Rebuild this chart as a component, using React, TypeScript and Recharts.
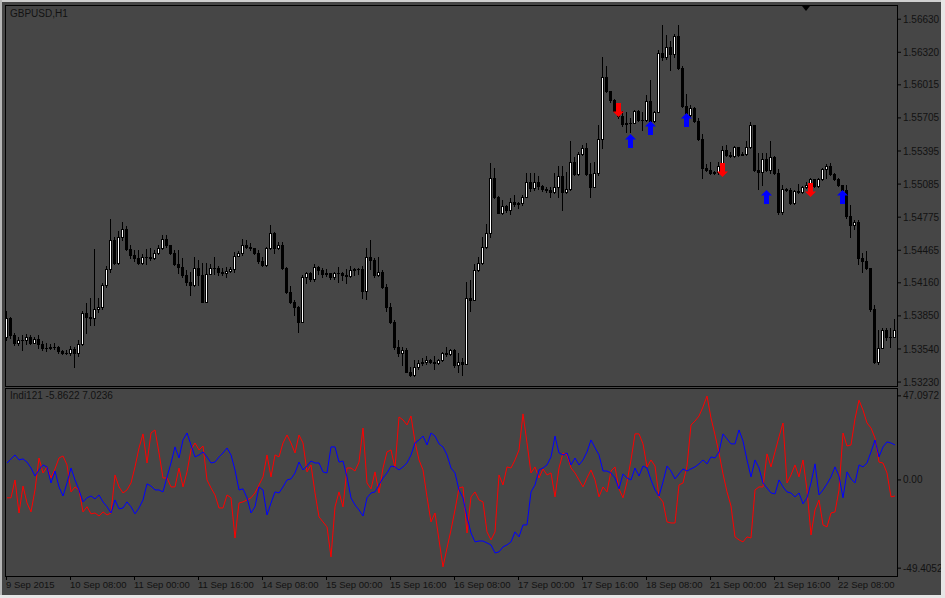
import React from 'react';
import { ComposedChart, Bar, Scatter, XAxis, YAxis, LineChart, Line } from 'recharts';

// GBPUSD H1 candles, prices stored as pips above 1.5300 (open = previous close)
const BASE = 1.53;
const PIP = 0.0001;
const firstOpenPips = 65;

const closePips = [
  83, 67, 60, 62, 62, 65, 60, 63, 59, 55, 55, 56, 56, 52, 50, 50, 54, 50, 59, 88,
  84, 83, 91, 93, 114, 129, 156, 135, 159, 166, 148, 142, 139, 135, 140, 140,
  139, 144, 149, 157, 151, 144, 134, 131, 123, 117, 114, 130, 123, 98, 124, 130, 130, 126, 125, 127,
  129, 141, 144, 151, 150, 149, 144, 136, 133, 149, 163, 149, 151, 130, 107, 98, 93, 79,
  121, 125, 120, 131, 128, 124, 125, 121, 125, 125, 123, 122, 128, 129, 129, 108, 140, 137, 123, 126,
  112, 93, 79, 56, 50, 53, 32, 30, 37, 41, 42, 44, 42, 41, 44, 50, 49,
  53, 39, 42, 40, 102, 100, 128, 135, 150, 163, 214, 196, 181, 188, 184, 192, 190, 191, 196, 210,
  205, 210, 207, 204, 203, 201, 206, 216, 201, 204, 229, 218, 237, 242, 218, 206,
  219, 251, 309, 296, 287, 277, 272, 265, 266, 266, 277, 269, 269, 286, 268, 276, 331, 328, 337, 330,
  347, 317, 282, 273, 280, 268, 251, 224, 222, 219, 220, 225, 240, 236, 235, 243, 236,
  237, 243, 264, 222, 220, 232, 222, 234, 219, 182, 204, 203, 191, 202, 201, 206, 208, 213, 207, 213,
  223, 225, 218, 213, 208, 203, 179, 170, 173, 139, 136, 130, 91, 42, 55, 72, 65, 65, 72,
];

const highPips = [
  90, 84, 69, 65, 67, 68, 67, 65, 67, 61, 60, 59, 60, 57, 53, 53, 57, 56, 62, 90,
  97, 102, 148, 102, 116, 132, 176, 159, 165, 173, 169, 151, 147, 147, 143, 148,
  149, 147, 151, 161, 161, 151, 147, 147, 139, 128, 126, 140, 137, 135, 135, 134, 140, 132, 130, 131,
  131, 145, 146, 157, 156, 153, 149, 147, 140, 150, 170, 164, 154, 154, 131, 113, 100, 94,
  123, 126, 126, 134, 132, 130, 129, 125, 126, 131, 126, 129, 132, 130, 130, 132, 149, 156, 139, 140,
  128, 115, 97, 81, 62, 56, 55, 37, 44, 44, 46, 47, 45, 47, 45, 51, 56,
  54, 54, 50, 46, 117, 119, 134, 140, 159, 171, 228, 224, 197, 194, 189, 195, 198, 192, 198, 219,
  219, 219, 216, 208, 206, 206, 219, 225, 225, 220, 249, 234, 239, 245, 247, 228,
  229, 264, 328, 319, 296, 288, 283, 277, 276, 270, 278, 278, 276, 292, 306, 277, 334, 358, 348, 343,
  349, 358, 319, 293, 283, 281, 270, 255, 227, 229, 221, 229, 244, 245, 239, 244, 243,
  239, 249, 267, 264, 238, 238, 238, 249, 235, 223, 208, 205, 205, 203, 209, 207, 210, 214, 213, 214,
  224, 227, 228, 219, 214, 208, 208, 189, 175, 175, 144, 146, 130, 95, 72, 74, 74, 74, 82,
];

const lowPips = [
  62, 64, 58, 58, 53, 59, 59, 60, 55, 53, 52, 54, 54, 50, 49, 49, 48, 37, 47, 58,
  69, 76, 76, 89, 91, 112, 126, 134, 134, 156, 147, 139, 136, 134, 134, 134,
  137, 138, 143, 148, 150, 143, 133, 125, 121, 114, 105, 113, 114, 98, 98, 124, 124, 123, 123, 121,
  126, 126, 141, 142, 149, 147, 143, 135, 132, 132, 148, 144, 148, 129, 106, 97, 86, 70,
  79, 116, 118, 118, 124, 121, 122, 120, 120, 117, 119, 116, 121, 123, 124, 102, 101, 129, 121, 122,
  111, 90, 78, 54, 47, 39, 32, 29, 29, 35, 39, 40, 41, 35, 40, 43, 47,
  48, 37, 32, 30, 40, 90, 100, 127, 134, 149, 159, 195, 181, 180, 182, 180, 188, 186, 189, 196,
  202, 203, 204, 202, 201, 196, 200, 196, 184, 200, 203, 217, 217, 236, 217, 196,
  206, 217, 242, 295, 285, 276, 270, 263, 257, 257, 266, 268, 259, 268, 267, 267, 276, 325, 326, 315,
  328, 316, 281, 272, 271, 267, 250, 214, 221, 218, 218, 218, 224, 235, 234, 234, 235,
  236, 236, 242, 221, 204, 208, 221, 219, 218, 180, 180, 202, 190, 190, 200, 200, 205, 207, 206, 206,
  212, 214, 217, 212, 207, 202, 177, 159, 166, 134, 126, 129, 90, 41, 40, 55, 62, 56, 65,
];

// signal arrows: bar index and price level (pips above 1.5300)
const sellArrows = [
  { bar: 153, pips: 278 },
  { bar: 179, pips: 222 },
  { bar: 201, pips: 203 },
];
const buyArrows = [
  { bar: 156, pips: 249 },
  { bar: 161, pips: 261 },
  { bar: 170, pips: 269 },
  { bar: 190, pips: 196 },
  { bar: 209, pips: 196 },
];

// Indi121 sub-window
const blueLine = [
  9.5, 11.8, 14, 11.2, 11.8, 10, 6.7, 2.2, 5.6, 8.4, 7.3, -1.7, 5, -3.9, -9, -1.7, 6.7, 0, -5.6, -12.3,
  -10, -9, -10.6, -8.4, -12.3, -15, -18.5, -11.2, -16.2, -15.7, -12.3, -15, -19, -15.7, -11.2, -2.2,
  -3.4, -5.6, -5.6, -6.7, 1.7, 9.5, 18.5, 12.3, 22.4, 26.3, 19.6, 12.9, 14, 15.7, 12.9, 9.5, 10, 12.9, 15.1, 17.9,
  14, 5.6, -5.6, -5, -10, -18.5, -15, -3.9, -5.6, -19.6, -12.9, -6.7, -7.3, -3.9, 0, 0.6, 3.9, 10,
  5.6, 7.8, 10.6, 9.5, 9.5, 4.5, 3.9, 18.5, 18.5, 10, 10.6, 1.7, -10, -14, -16.8, -20.2, -10, -7.3, -6.7, -2.8,
  1.1, 3.9, 7.8, 7.3, 5.6, 7.3, 9.5, 14, 20.7, 22.4, 24.6, 19.6, 26.3, 24.6, 20.2, 18.5, 14,
  6.7, 3.9, -5.6, -10, -20.7, -29.7, -34.7, -34.2, -34.2, -35.3, -36.4, -40.9, -40.3, -37.5, -36.4, -34.7, -29.1, -31.9, -25.2, -25.2,
  -6.7, -2.8, 5.6, 6.7, 8.4, 12.9, 24.6, 15.1, 14, 15.1, 8.4, 12.3, 8.4, 11.2, 15.7, 22.4, 18,
  14, 5, 5, 3.9, 1.1, -5, 3.4, 1.1, 0, 6.7, 2.2, 7.8, 6.7, 0, -5.6, -9, -1.1, 7.8, 5, 0.6,
  3.4, 6.2, 5, 6.2, 7.3, 9, 11.2, 9, 12.9, 12.3, 15.7, 25.8, 23, 20.2, 20.2, 28, 21.8,
  11.2, 1.7, 11.2, 6.7, -1.7, -4.5, -7.3, -7.8, 0, -3.9, -6.7, -7.3, -9.5, -7.3, -13.4, -10, -1.7, 9, -8.4, -5.6,
  -2.2, 1.7, 7.3, 2.2, -10, 4.5, 0.6, -1.7, 8.4, 7.3, 9.5, 15.7, 22.4, 12.9, 18.5, 21.3, 20.7, 19.6,
];

const redLine = [
  -10, -10, 0, -18.5, -3.4, -12.9, -17.9, -5.6, 12.3, 3.9, 7.3, 1.1, 6.2, 12.3, 13.4, 8.4, -6.7, -3.9, -5.6, -17.9,
  -15, -19, -18.5, -20.2, -17.9, -19.6, -18.5, 2.8, -3.9, -7.3, -5.6, -1.7, 7.3, 17.9, 25.8, 9.5,
  26.3, 28, 15.1, 1.1, 1.1, -3.9, -3.9, 6.7, -3.9, 4.5, 16.8, 20.7, 16.8, 19, 0, -4.5, -8.4, -15.7, -15.7, -8.4,
  -10, -32.5, -12.9, -12.3, -11.2, -10, -7.3, -2.8, 1.7, 14, 1.7, 14, 12.9, 20.7, 25.2, 20.7, 15.1, 25.2,
  20.7, 4.5, 8.4, -7.3, -20.7, -23.5, -26.3, -43.1, -15.1, -6.7, -15.1, 6.7, 6.7, 5, 10, 29.1, -1.7, -5, 4.5, -7.3,
  6.7, 15.7, 16.8, 6.7, 35.3, 33.6, 30.8, 35.8, 21.3, 11.2, 5.6, -9.5, -23.5, -18.5, -33.6, -48.7, -38.1,
  -28, -16.8, -4.5, -3.9, -29.7, -9.5, -6.7, -11.2, -12.3, -29.1, -33.6, -29.1, 2.8, -2.8, 7.3, 6.7, 11.2, 16.8, 37, 20.7,
  3.9, 7.3, 1.1, 6.2, 2.8, 3.9, -9.5, 6.7, 15.1, 14, 6.7, 3.9, 0, -3.9, 1.1, 5.6, 0,
  -9.5, -3.9, -6.7, 5, 7.3, -5, -10, -1.1, 11.2, 25.8, 25.8, 20.2, 7.3, 11.2, 7.8, -9.5, -12.3, -23.5, -24.1, -24.1,
  -2.8, -1.7, 7.8, 30.8, 33, 35.8, 40.9, 47, 34.7, 25.2, 15.1, 3.4, -6.7, -14.6, -31.9, -33.6, -34.7,
  -31.9, -32.5, -5.6, -3.9, -3.9, 14.6, 7.3, 15.7, 24.1, 31.9, -1.7, 2.8, 8.4, 1.7, 11.2, -5.6, -30.8, -16.8, -11.2, -25.2,
  -26.3, -18.5, -17.9, -5.6, 26.3, 19, 19.6, 34.2, 44.7, 39.1, 31.9, 29.1, 23.5, 10, 9.5, 3.9, -9.5, -9,
];

const timeTicks = [0, 16, 32, 48, 64, 80, 96, 112, 128, 144, 160, 176, 192, 208];
const timeLabels = [
  '9 Sep 2015', '10 Sep 08:00', '11 Sep 00:00', '11 Sep 16:00', '14 Sep 08:00', '15 Sep 00:00', '15 Sep 16:00',
  '16 Sep 08:00', '17 Sep 00:00', '17 Sep 16:00', '18 Sep 08:00', '21 Sep 00:00', '21 Sep 16:00', '22 Sep 08:00',
];
const priceTicks = [1.5663, 1.5632, 1.56015, 1.55705, 1.55395, 1.55085, 1.54775, 1.54465, 1.5416, 1.5385, 1.5354, 1.5323];
const indiTicks = [47.0972, 0, -49.4052];

const FONT = "'Liberation Sans', Arial, sans-serif";
const TEXT = '#121212';
const BG = '#464646';
const N = closePips.length;
const X_DOMAIN: [number, number] = [-0.5, N - 0.5];

const toPrice = (p: number) => BASE + p * PIP;

const candles = closePips.map((c, i) => {
  const open = toPrice(i === 0 ? firstOpenPips : closePips[i - 1]);
  const close = toPrice(c);
  const high = toPrice(highPips[i]);
  const low = toPrice(lowPips[i]);
  return { i, open, close, high, low, range: [low, high] };
});

const sellRows = sellArrows.map(a => ({ i: a.bar, price: toPrice(a.pips) }));
const buyRows = buyArrows.map(a => ({ i: a.bar, price: toPrice(a.pips) }));
const indiRows = blueLine.map((b, i) => ({ i, blue: b, red: redLine[i] }));

function Candle(props: any) {
  const { x, y, width, height, payload } = props;
  if (!payload || x == null) return null;
  const { open, close, high, low } = payload;
  const top = Math.min(y, y + height);
  const h = Math.abs(height);
  const py = (v: number) => top + ((high - v) / (high - low || 1)) * h;
  const c = Math.round(x + width / 2) - 1;
  const hiY = Math.round(py(high));
  const loY = Math.round(py(low));
  const bTop = Math.round(py(Math.max(open, close)));
  const bBot = Math.round(py(Math.min(open, close)));
  const bull = close > open;
  if (bull) {
    const bh = Math.max(bBot - bTop, 1);
    return (
      <g shapeRendering="crispEdges">
        <line x1={c + 0.5} x2={c + 0.5} y1={hiY} y2={bTop} stroke="#000" />
        <line x1={c + 0.5} x2={c + 0.5} y1={bTop + bh} y2={loY + 1} stroke="#000" />
        <rect x={c - 0.5} y={bTop + 0.5} width={2} height={bh} fill="#fff" stroke="#000" strokeWidth={1} />
      </g>
    );
  }
  return (
    <g shapeRendering="crispEdges">
      <line x1={c + 0.5} x2={c + 0.5} y1={hiY} y2={loY + 1} stroke="#000" />
      <rect x={c - 1} y={bTop} width={3} height={Math.max(bBot - bTop + 1, 1)} fill="#000" />
    </g>
  );
}

// thick arrow glyph, pointing up (dir = -1) or down (dir = 1)
function arrowPoints(cx: number, cy: number, dir: number) {
  const x = Math.round(cx) - 0.5;
  const y = Math.round(cy);
  return [
    [x, y + dir * 7], [x + 5.5, y + dir * 1.5], [x + 2.5, y + dir * 1.5], [x + 2.5, y - dir * 7],
    [x - 2.5, y - dir * 7], [x - 2.5, y + dir * 1.5], [x - 5.5, y + dir * 1.5],
  ].map(p => p.join(',')).join(' ');
}

function ArrowUp(props: any) {
  const { cx, cy } = props;
  if (cx == null) return null;
  return <polygon points={arrowPoints(cx, cy, -1)} fill="#0000ff" />;
}

function ArrowDown(props: any) {
  const { cx, cy } = props;
  if (cx == null) return null;
  return <polygon points={arrowPoints(cx, cy, 1)} fill="#ff0000" />;
}

function TimeTick(props: any) {
  const { x, y, payload } = props;
  const c = Math.round(x) - 1;
  const label = timeLabels[timeTicks.indexOf(payload.value)];
  return (
    <g>
      <line x1={c + 0.5} x2={c + 0.5} y1={y} y2={y + 4} stroke="#000" shapeRendering="crispEdges" />
      <text x={c} y={y + 12} fontSize={9.5} fontFamily={FONT} fill={TEXT} textAnchor="start">
        {label}
      </text>
    </g>
  );
}

const axisTick = { fontSize: 10, fill: TEXT, fontFamily: FONT };

export default function App() {
  return (
    <div style={{ position: 'absolute', left: 0, top: 0, width: 945, height: 598, background: BG, overflow: 'hidden' }}>
      <div style={{ position: 'absolute', left: 0, top: 0, width: 945, height: 387 }}>
        <ComposedChart width={945} height={387} data={candles} margin={{ top: 5, right: 0, left: 5, bottom: 1 }}>
          <XAxis dataKey="i" type="number" domain={X_DOMAIN} allowDataOverflow hide />
          <YAxis
            orientation="right"
            type="number"
            domain={[1.53193, 1.56763]}
            allowDataOverflow
            ticks={priceTicks}
            interval={0}
            width={48}
            tickSize={4}
            tickMargin={2}
            axisLine={false}
            tickLine={{ stroke: '#000' }}
            tick={axisTick}
            tickFormatter={(v: number) => v.toFixed(5)}
          />
          <Bar dataKey="range" barSize={3} shape={(p: any) => <Candle {...p} />} isAnimationActive={false} />
          <Scatter data={sellRows} dataKey="price" shape={(p: any) => <ArrowDown {...p} />} isAnimationActive={false} />
          <Scatter data={buyRows} dataKey="price" shape={(p: any) => <ArrowUp {...p} />} isAnimationActive={false} />
        </ComposedChart>
      </div>

      <div style={{ position: 'absolute', left: 0, top: 388, width: 945, height: 210 }}>
        <LineChart width={945} height={210} data={indiRows} margin={{ top: 0, right: 0, left: 5, bottom: 0 }}>
          <XAxis
            dataKey="i"
            type="number"
            domain={X_DOMAIN}
            allowDataOverflow
            ticks={timeTicks}
            interval={0}
            height={22}
            tickSize={0}
            tickMargin={0}
            axisLine={false}
            tickLine={false}
            tick={(p: any) => <TimeTick {...p} />}
          />
          <YAxis
            orientation="right"
            type="number"
            domain={[-53.8, 51.5]}
            allowDataOverflow
            ticks={indiTicks}
            interval={0}
            width={48}
            tickSize={4}
            tickMargin={2}
            axisLine={false}
            tickLine={{ stroke: '#000' }}
            tick={axisTick}
            tickFormatter={(v: number) => (v === 0 ? '0.00' : v.toFixed(4))}
          />
          <Line type="linear" dataKey="red" stroke="#ff0000" strokeWidth={1} dot={false} isAnimationActive={false} />
          <Line type="linear" dataKey="blue" stroke="#0000ff" strokeWidth={1} dot={false} isAnimationActive={false} />
        </LineChart>
      </div>

      {/* panel frames */}
      <div style={{ position: 'absolute', left: 5, top: 5, width: 893, height: 382, border: '1px solid #000', boxSizing: 'border-box', pointerEvents: 'none' }} />
      <div style={{ position: 'absolute', left: 5, top: 388, width: 893, height: 189, border: '1px solid #000', boxSizing: 'border-box', pointerEvents: 'none' }} />
      {/* chart shift marker */}
      <div style={{ position: 'absolute', left: 802, top: 6, width: 0, height: 0, borderLeft: '4px solid transparent', borderRight: '4px solid transparent', borderTop: '5px solid #000' }} />

      <div style={{ position: 'absolute', left: 10, top: 8, font: `10px ${FONT}`, color: TEXT, lineHeight: '12px' }}>GBPUSD,H1</div>
      <div style={{ position: 'absolute', left: 10, top: 390, font: `10px ${FONT}`, color: TEXT, lineHeight: '12px' }}>Indi121 -5.8622 7.0236</div>

      {/* window frame */}
      <div style={{ position: 'absolute', left: 0, top: 0, width: 945, height: 2, background: '#cfcfcf' }} />
      <div style={{ position: 'absolute', left: 0, top: 0, width: 2, height: 598, background: '#b8b8b8' }} />
      <div style={{ position: 'absolute', left: 941, top: 0, width: 4, height: 598, background: '#e6e6e6' }} />
      <div style={{ position: 'absolute', left: 0, top: 595, width: 945, height: 3, background: '#e6e6e6' }} />
    </div>
  );
}
